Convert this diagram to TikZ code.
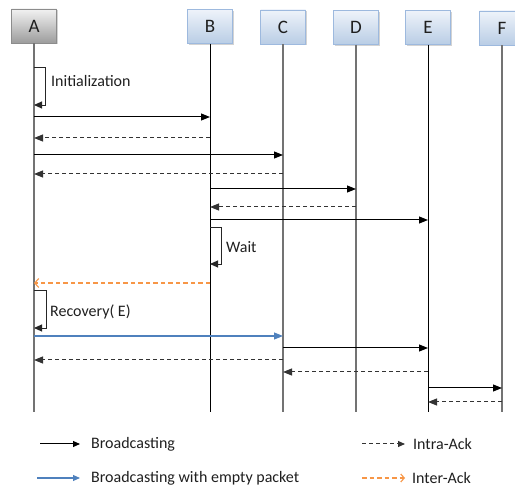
\documentclass[tikz,border=0pt]{standalone}
\usepackage{fontspec}
\setmainfont{Carlito}
\usetikzlibrary{arrows.meta,shadows}
\definecolor{boxblueT}{HTML}{EEF3FA}
\definecolor{boxblueB}{HTML}{B9CDE5}
\definecolor{boxblueD}{HTML}{9DB9DE}
\definecolor{grayT}{HTML}{F2F2F2}
\definecolor{grayB}{HTML}{9C9C9C}
\definecolor{ackorange}{HTML}{F79646}
\definecolor{pktblue}{HTML}{4F81BD}
\definecolor{txt}{HTML}{1F1F1F}
\begin{document}
\begin{tikzpicture}[x=1pt,y=-1pt,
  ent/.style={minimum width=45pt, minimum height=34pt, inner sep=0pt,
    font=\fontsize{19}{22}\selectfont, text=txt, draw=boxblueD,
    top color=boxblueT, bottom color=boxblueB,
    drop shadow={shadow xshift=1.5pt,shadow yshift=-1.5pt,opacity=0.35}},
  entgray/.style={ent, draw=black!45, top color=grayT, bottom color=grayB},
  life/.style={line width=1.2pt, draw=black!55},
  lifeb/.style={line width=0.8pt, draw=black},
  bc/.style={line width=1pt, draw=black, -{Triangle[length=9pt,width=7pt]}},
  ack/.style={bc, dash pattern=on 4pt off 3pt, draw=black!80},
  inter/.style={line width=1.1pt, draw=ackorange, dash pattern=on 4.5pt off 3pt,
    -{Straight Barb[length=4pt,width=9pt]}},
  empty/.style={line width=1.1pt, draw=pktblue, -{Triangle[length=9pt,width=7pt]}, fill=pktblue},
  selfloop/.style={line width=0.9pt, draw=black!85, -{Triangle[length=8pt,width=7pt]}},
  lbl/.style={anchor=west, inner sep=0pt, text=txt, font=\fontsize{16}{19}\selectfont}
]
\useasboundingbox (0,0) rectangle (515,489);
% entities
\node[entgray] (a) at (34,26) {A};
\node[ent] (b) at (210,26.5) {B};
\node[ent] (c) at (283,27) {C};
\node[ent] (d) at (356,27.5) {D};
\node[ent] (e) at (428,27.5) {E};
\node[ent] (f) at (502,28) {F};
% lifelines
\draw[life]  (a.south) -- (a |- 0,412);
\draw[lifeb] (b.south) -- (b |- 0,412);
\draw[life]  (c.south) -- (c |- 0,412);
\draw[life]  (d.south) -- (d |- 0,412);
\draw[lifeb] (e.south) -- (e |- 0,412);
\draw[life]  (f.south) -- (f |- 0,412);
% initialization
\draw[selfloop] (a |- 0,67) -- ++(11,0) -- ++(0,38) -- (a |- 0,105);
\node[lbl] (init) at (51,81) {Initialization};
% messages
\draw[bc]  (a |- 0,117) -- (b |- 0,117);
\draw[ack] (b |- 0,138) -- (a |- 0,138);
\draw[bc]  (a |- 0,155) -- (c |- 0,155);
\draw[ack] (c |- 0,174) -- (a |- 0,174);
\draw[bc]  (b |- 0,189) -- (d |- 0,189);
\draw[ack] (d |- 0,207) -- (b |- 0,207);
\draw[bc]  (b |- 0,220) -- (e |- 0,220);
% wait
\draw[selfloop] (b |- 0,227) -- ++(11,0) -- ++(0,37) -- (b |- 0,264);
\node[lbl] (wait) at (226,247) {Wait};
% inter-ack
\draw[inter] (b |- 0,283) -- (a |- 0,283);
% recovery
\draw[selfloop] (a |- 0,290) -- ++(12,0) -- ++(0,38) -- (a |- 0,328);
\node[lbl] (rec) at (50,312) {Recovery( E)};
\draw[empty] (a |- 0,336) -- (c |- 0,336);
\draw[bc]  (c |- 0,348) -- (e |- 0,348);
\draw[ack] (c |- 0,360) -- (a |- 0,360);
\draw[ack] (e |- 0,372) -- (c |- 0,372);
\draw[bc]  (e |- 0,388) -- (f |- 0,388);
\draw[ack] (f |- 0,402) -- (e |- 0,402);
% legend
\coordinate (l1s) at (40,444);  \coordinate (l1e) at (80,444);
\coordinate (l2s) at (37,478);  \coordinate (l2e) at (80,478);
\coordinate (l3s) at (362,444); \coordinate (l3e) at (405,444);
\coordinate (l4s) at (362,478); \coordinate (l4e) at (405,478);
\draw[bc, -{Triangle[length=7pt,width=6pt]}] (l1s) -- (l1e);
\draw[empty, -{Triangle[length=7pt,width=6pt]}] (l2s) -- (l2e);
\draw[ack, -{Triangle[length=7pt,width=6pt]}] (l3s) -- (l3e);
\draw[inter, -{Straight Barb[length=3.5pt,width=8pt]}] (l4s) -- (l4e);
\node[lbl] (t1) at (91,444) {Broadcasting};
\node[lbl] (t2) at (91,478) {Broadcasting with empty packet};
\node[lbl] (t3) at (413,444) {Intra-Ack};
\node[lbl] (t4) at (412,478) {Inter-Ack};
\end{tikzpicture}
\end{document}
